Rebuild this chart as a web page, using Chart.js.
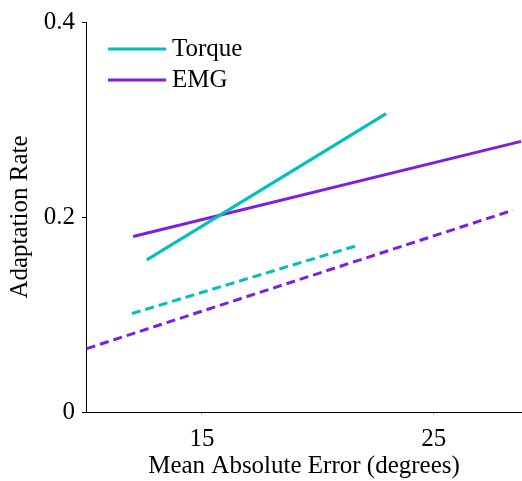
<!DOCTYPE html>
<html>
<head>
<meta charset="utf-8">
<script src="https://cdn.jsdelivr.net/npm/chart.js@4/dist/chart.umd.min.js"></script>
<style>
html,body{margin:0;padding:0;background:#fff;}
#wrap{width:522px;height:481px;}
</style>
</head>
<body>
<div id="wrap"><canvas id="c" width="522" height="481"></canvas></div>
<script>
// Data
const torqueX = [12.62, 22.94];
const torqueY = [0.156, 0.306];
const emgX = [12.03, 28.76];
const emgY = [0.180, 0.2776];
const torqueDashX = [11.98, 21.73];
const torqueDashY = [0.101, 0.171];
const emgDashX = [10.03, 28.41];
const emgDashY = [0.065, 0.207];
const xTicks = [15, 25];
const yTicks = [0, 0.2, 0.4];
const seriesNames = ['Torque', 'EMG'];

const CYAN = 'rgb(0,191,191)';
const PURPLE = 'rgb(125,30,230)';
const FONT = '"Liberation Serif", "Times New Roman", serif';
const FS = 25;

function pts(xs, ys){ return xs.map((x,i)=>({x:x, y:ys[i]})); }

const legendPlugin = {
  id: 'customLegend',
  afterDraw(chart){
    const ctx = chart.ctx;
    const items = [
      {label: seriesNames[0], color: CYAN, y: 49},
      {label: seriesNames[1], color: PURPLE, y: 80}
    ];
    ctx.save();
    items.forEach(it=>{
      ctx.strokeStyle = it.color;
      ctx.lineWidth = 3;
      ctx.beginPath();
      ctx.moveTo(108, it.y);
      ctx.lineTo(166, it.y);
      ctx.stroke();
      ctx.fillStyle = '#000';
      ctx.font = FS + 'px ' + FONT;
      ctx.textBaseline = 'middle';
      ctx.textAlign = 'left';
      ctx.fillText(it.label, 172, it.y);
    });
    ctx.restore();
  }
};

new Chart(document.getElementById('c'), {
  type: 'line',
  data: {
    datasets: [
      {label: seriesNames[0], data: pts(torqueX, torqueY), borderColor: CYAN, borderWidth: 3, pointRadius: 0, fill: false},
      {label: seriesNames[1], data: pts(emgX, emgY), borderColor: PURPLE, borderWidth: 3, pointRadius: 0, fill: false},
      {label: seriesNames[0] + ' (dashed)', data: pts(torqueDashX, torqueDashY), borderColor: CYAN, borderWidth: 3, borderDash: [9,5], pointRadius: 0, fill: false},
      {label: seriesNames[1] + ' (dashed)', data: pts(emgDashX, emgDashY), borderColor: PURPLE, borderWidth: 3, borderDash: [9,5], pointRadius: 0, fill: false}
    ]
  },
  options: {
    responsive: false,
    animation: false,
    layout: {padding: {top: 20, right: 0, left: 0, bottom: 0}},
    plugins: {legend: {display: false}, tooltip: {enabled: false}},
    scales: {
      x: {
        type: 'linear',
        min: 10, max: 28.8,
        afterBuildTicks: s => { s.ticks = xTicks.map(v=>({value:v})); },
        afterFit: s => { s.height = 69; },
        grid: {drawOnChartArea: false, drawTicks: true, tickLength: 3, color: '#bbb'},
        border: {display: true, color: '#000', width: 1},
        ticks: {color: '#000', font: {family: FONT, size: FS}, padding: 9, maxRotation: 0},
        title: {display: true, text: 'Mean Absolute Error (degrees)', color: '#000', font: {family: FONT, size: FS}, padding: {top: 0, bottom: 0}}
      },
      y: {
        type: 'linear',
        min: 0, max: 0.4,
        afterBuildTicks: s => { s.ticks = yTicks.map(v=>({value:v})); },
        afterFit: s => { s.width = 86; },
        grid: {drawOnChartArea: false, drawTicks: true, tickLength: 4, color: '#000'},
        border: {display: true, color: '#000', width: 1},
        ticks: {color: '#000', font: {family: FONT, size: FS}, padding: 7, callback: v => String(v)},
        title: {display: true, text: 'Adaptation Rate', color: '#000', font: {family: FONT, size: FS}, padding: {top: 5, bottom: 0}}
      }
    }
  },
  plugins: [legendPlugin]
});
</script>
</body>
</html>
